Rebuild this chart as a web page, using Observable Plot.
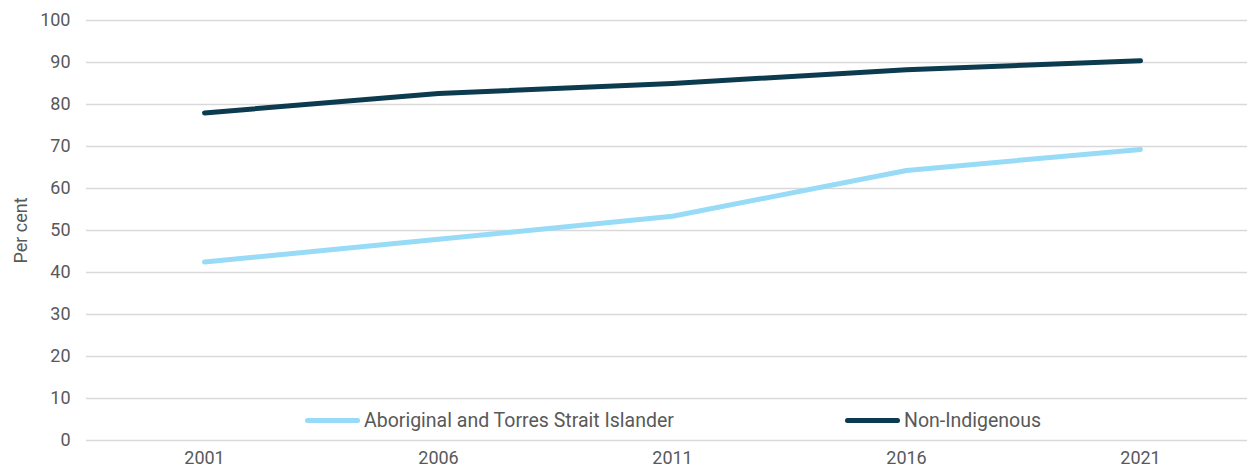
<!DOCTYPE html>
<html>
<head>
<meta charset="utf-8">
<script src="https://cdn.jsdelivr.net/npm/d3@7"></script>
<script src="https://cdn.jsdelivr.net/npm/@observablehq/plot@0.6"></script>
<style>
  html, body { margin: 0; padding: 0; background: #fff; }
  #wrap { position: relative; width: 1247px; height: 470px; font-family: Roboto, "Liberation Sans", sans-serif; }
  #legend { position: absolute; top: 408px; left: 0; width: 1247px; height: 24px; font-size: 19.5px; color: #595959; }
  .item { position: absolute; display: flex; align-items: center; white-space: nowrap; height: 24px; }
  .swatch { display: inline-block; width: 55px; height: 5px; border-radius: 3px; margin-right: 4px; }
</style>
</head>
<body>
<div id="wrap"><div id="legend"></div></div>
<script>
// Census years and the share (per cent) for each population group
const years = ["2001", "2006", "2011", "2016", "2021"];
const indigenous = [42.5, 47.9, 53.4, 64.3, 69.3];
const nonIndigenous = [78.0, 82.6, 85.0, 88.3, 90.4];
const seriesNames = ["Aboriginal and Torres Strait Islander", "Non-Indigenous"];
const seriesColors = ["#97dbf7", "#0c3a4f"];
const yTicks = [0, 10, 20, 30, 40, 50, 60, 70, 80, 90, 100];

const rows = [
  ...years.map((year, i) => ({year, value: indigenous[i], series: seriesNames[0]})),
  ...years.map((year, i) => ({year, value: nonIndigenous[i], series: seriesNames[1]}))
];

const chart = Plot.plot({
  width: 1247,
  height: 470,
  marginTop: 20,
  marginBottom: 30,
  marginLeft: 86,
  marginRight: 0,
  style: {fontFamily: "Roboto, 'Liberation Sans', sans-serif", fontSize: "18px", color: "#595959", background: "#fff"},
  x: {type: "point", domain: years, range: [203, 1140], padding: 0},
  y: {domain: [0, 100]},
  color: {domain: seriesNames, range: seriesColors},
  marks: [
    Plot.gridY(yTicks, {stroke: "#d9d9d9", strokeOpacity: 1, strokeWidth: 1.6}),
    Plot.axisY(yTicks, {tickSize: 0, tickPadding: 16, fontSize: 18, fill: "#595959",
      label: "Per cent", labelAnchor: "center", labelArrow: "none", labelOffset: 72}),
    Plot.axisX({tickSize: 0, tickPadding: 11, fontSize: 18, fill: "#595959", label: null}),
    Plot.line(rows, {x: "year", y: "value", z: "series", stroke: "series",
      strokeWidth: 5, strokeLinecap: "round", strokeLinejoin: "round"})
  ]
});
document.getElementById("wrap").prepend(chart);

// Legend sitting inside the plot area, near the baseline
const legend = d3.select("#legend");
const legendLeft = [305, 845];
seriesNames.forEach((name, i) => {
  const item = legend.append("div").attr("class", "item").style("left", legendLeft[i] + "px");
  item.append("span").attr("class", "swatch").style("background", seriesColors[i]);
  item.append("span").text(name);
});
</script>
</body>
</html>
